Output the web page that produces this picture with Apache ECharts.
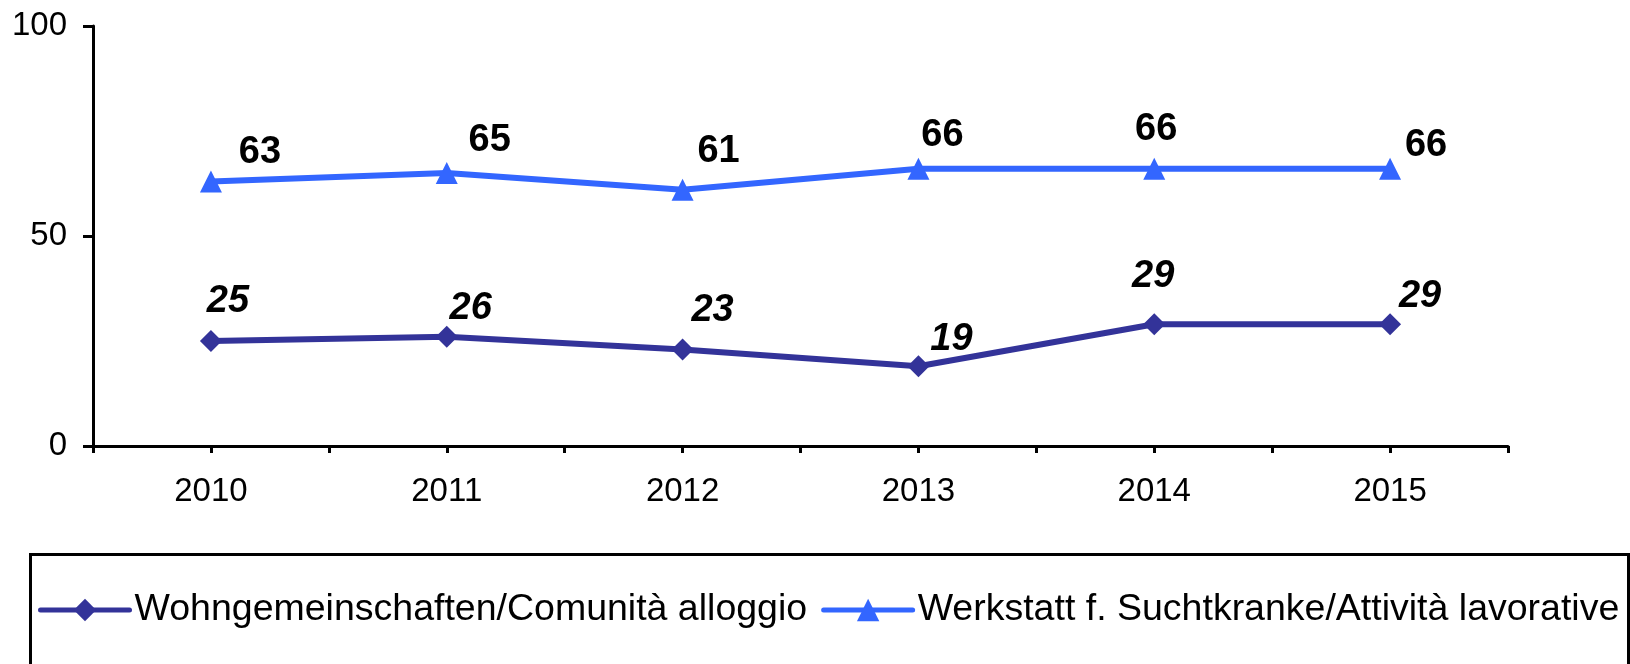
<!DOCTYPE html>
<html>
<head>
<meta charset="utf-8">
<script src="https://cdn.jsdelivr.net/npm/echarts@6/dist/echarts.min.js"></script>
<style>
  html, body { margin: 0; padding: 0; background: #fff; }
  #chart { width: 1630px; height: 664px; }
</style>
</head>
<body>
<div id="chart"></div>
<script>
// data
const years = ['2010', '2011', '2012', '2013', '2014', '2015'];
const wohnName = 'Wohngemeinschaften/Comunità alloggio';
const werkName = 'Werkstatt f. Suchtkranke/Attività lavorative';
const wohnValues = [25, 26, 23, 19, 29, 29];
const werkValues = [63, 65, 61, 66, 66, 66];
const yTicks = [0, 50, 100];

// manual label nudges (px, relative to the point), like the Excel original
const wohnNudge = [[17, -39], [24, -28], [30, -39], [33, -27], [-1, -48], [30, -28]];
const werkNudge = [[49, -29], [43, -32], [36, -38], [24, -33], [2, -39], [36, -23]];

const font = '"Liberation Sans", Arial, sans-serif';

const chart = echarts.init(document.getElementById('chart'));

function withLabels(values, nudge) {
  return values.map((v, i) => ({ value: v, label: { offset: nudge[i] } }));
}

const option = {
  animation: false,
  backgroundColor: '#fff',
  textStyle: { fontFamily: font },
  grid: { left: 93, right: 122, top: 26, bottom: 218 },
  xAxis: [
    {
      type: 'category',
      data: years,
      boundaryGap: true,
      axisLine: { lineStyle: { color: '#000', width: 3 } },
      axisTick: { show: true, length: 7, lineStyle: { color: '#000', width: 3 } },
      axisLabel: { color: '#000', fontSize: 33, fontFamily: font, margin: 29 },
      splitLine: { show: false }
    },
    {
      // second copy only for the ticks under each year
      type: 'category',
      data: years,
      position: 'bottom',
      axisLine: { show: false },
      axisTick: { show: true, alignWithLabel: true, length: 7, lineStyle: { color: '#000', width: 3 } },
      axisLabel: { show: false },
      splitLine: { show: false }
    }
  ],
  yAxis: {
    type: 'value',
    min: yTicks[0],
    max: yTicks[yTicks.length - 1],
    interval: yTicks[1] - yTicks[0],
    axisLine: { show: true, lineStyle: { color: '#000', width: 3 } },
    axisTick: { show: true, inside: false, length: 10, lineStyle: { color: '#000', width: 3 } },
    axisLabel: { color: '#000', fontSize: 33, fontFamily: font, margin: 26 },
    splitLine: { show: false }
  },
  legend: {
    left: 38,
    top: 588,
    width: 1590,
    padding: 0,
    itemWidth: 89,
    itemHeight: 28,
    itemGap: 14,
    lineStyle: { width: 5, cap: 'round' },
    textStyle: { color: '#000', fontSize: 37.5, fontFamily: font, lineHeight: 44 },
    data: [wohnName, werkName]
  },
  graphic: [
    {
      type: 'rect',
      left: 28,
      top: 552,
      shape: { width: 1598, height: 140 },
      style: { fill: 'none', stroke: '#000', lineWidth: 3 },
      silent: true
    }
  ],
  series: [
    {
      name: wohnName,
      type: 'line',
      xAxisIndex: 0,
      symbol: 'diamond',
      symbolSize: 22,
      lineStyle: { color: '#333399', width: 6 },
      itemStyle: { color: '#333399' },
      label: {
        show: true,
        position: 'inside',
        color: '#000',
        fontSize: 38,
        fontWeight: 'bold',
        fontStyle: 'italic',
        fontFamily: font
      },
      data: withLabels(wohnValues, wohnNudge)
    },
    {
      name: werkName,
      type: 'line',
      xAxisIndex: 0,
      symbol: 'triangle',
      symbolSize: 22,
      lineStyle: { color: '#3366FF', width: 6 },
      itemStyle: { color: '#3366FF' },
      label: {
        show: true,
        position: 'inside',
        color: '#000',
        fontSize: 38,
        fontWeight: 'bold',
        fontFamily: font
      },
      data: withLabels(werkValues, werkNudge)
    }
  ]
};

chart.setOption(option);
</script>
</body>
</html>
